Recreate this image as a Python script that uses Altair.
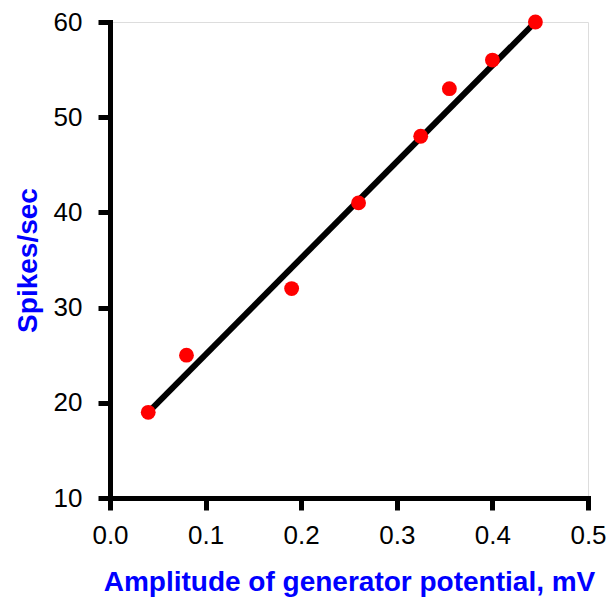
import altair as alt
import pandas as pd

# Data
amplitude_mv = [0.04, 0.08, 0.19, 0.26, 0.325, 0.355, 0.40, 0.445]
spikes_per_sec = [19, 25, 32, 41, 48, 53, 56, 60]

fit_x = [0.04, 0.445]
fit_y = [19, 60]

x_ticks = [0.0, 0.1, 0.2, 0.3, 0.4, 0.5]
y_ticks = [10, 20, 30, 40, 50, 60]

pts = pd.DataFrame({"x": amplitude_mv, "y": spikes_per_sec})
fit = pd.DataFrame({"x": fit_x, "y": fit_y})

x_scale = alt.Scale(domain=[0, 0.5], nice=False, zero=False)
y_scale = alt.Scale(domain=[10, 60], nice=False, zero=False)

W, H = 478, 476

x_axis = alt.Axis(
    title="Amplitude of generator potential, mV",
    values=x_ticks, format=".1f", grid=False,
    domainColor="black", domainWidth=5, domainCap="square",
    tickColor="black", tickWidth=5, tickSize=12,
    labelFont="Liberation Sans", labelFontSize=26, labelColor="black",
    labelPadding=12, labelFlush=False,
    titleFont="Liberation Sans", titleFontSize=28, titleFontWeight="bold",
    titleColor="#0000FF", titleBaseline="alphabetic", titleY=92,
    titleX=W / 2, titleAlign="center",
)
y_axis = alt.Axis(
    title="Spikes/sec",
    values=y_ticks, grid=False,
    domainColor="black", domainWidth=5, domainCap="square",
    tickColor="black", tickWidth=5, tickSize=12,
    labelFont="Liberation Sans", labelFontSize=26, labelColor="black",
    labelPadding=16, labelFlush=False,
    titleFont="Liberation Sans", titleFontSize=28, titleFontWeight="bold",
    titleColor="#0000FF", titleAngle=270, titleBaseline="alphabetic",
    titleX=-74, titleY=H / 2, titleAlign="center",
)

line = alt.Chart(fit).mark_line(color="black", strokeWidth=6, clip=False).encode(
    x=alt.X("x:Q", scale=x_scale, axis=x_axis),
    y=alt.Y("y:Q", scale=y_scale, axis=y_axis),
)

points = alt.Chart(pts).mark_circle(color="#FF0000", opacity=1, size=220, clip=False).encode(
    x=alt.X("x:Q", scale=x_scale),
    y=alt.Y("y:Q", scale=y_scale),
)

chart = (line + points).properties(
    width=W, height=H,
    autosize=alt.AutoSizeParams(type="none"),
    padding={"left": 102, "top": 14, "right": 20, "bottom": 99},
).configure_view(stroke=None).configure(background="white")

chart.save("out.html", embed_options={"renderer": "svg", "actions": False})
